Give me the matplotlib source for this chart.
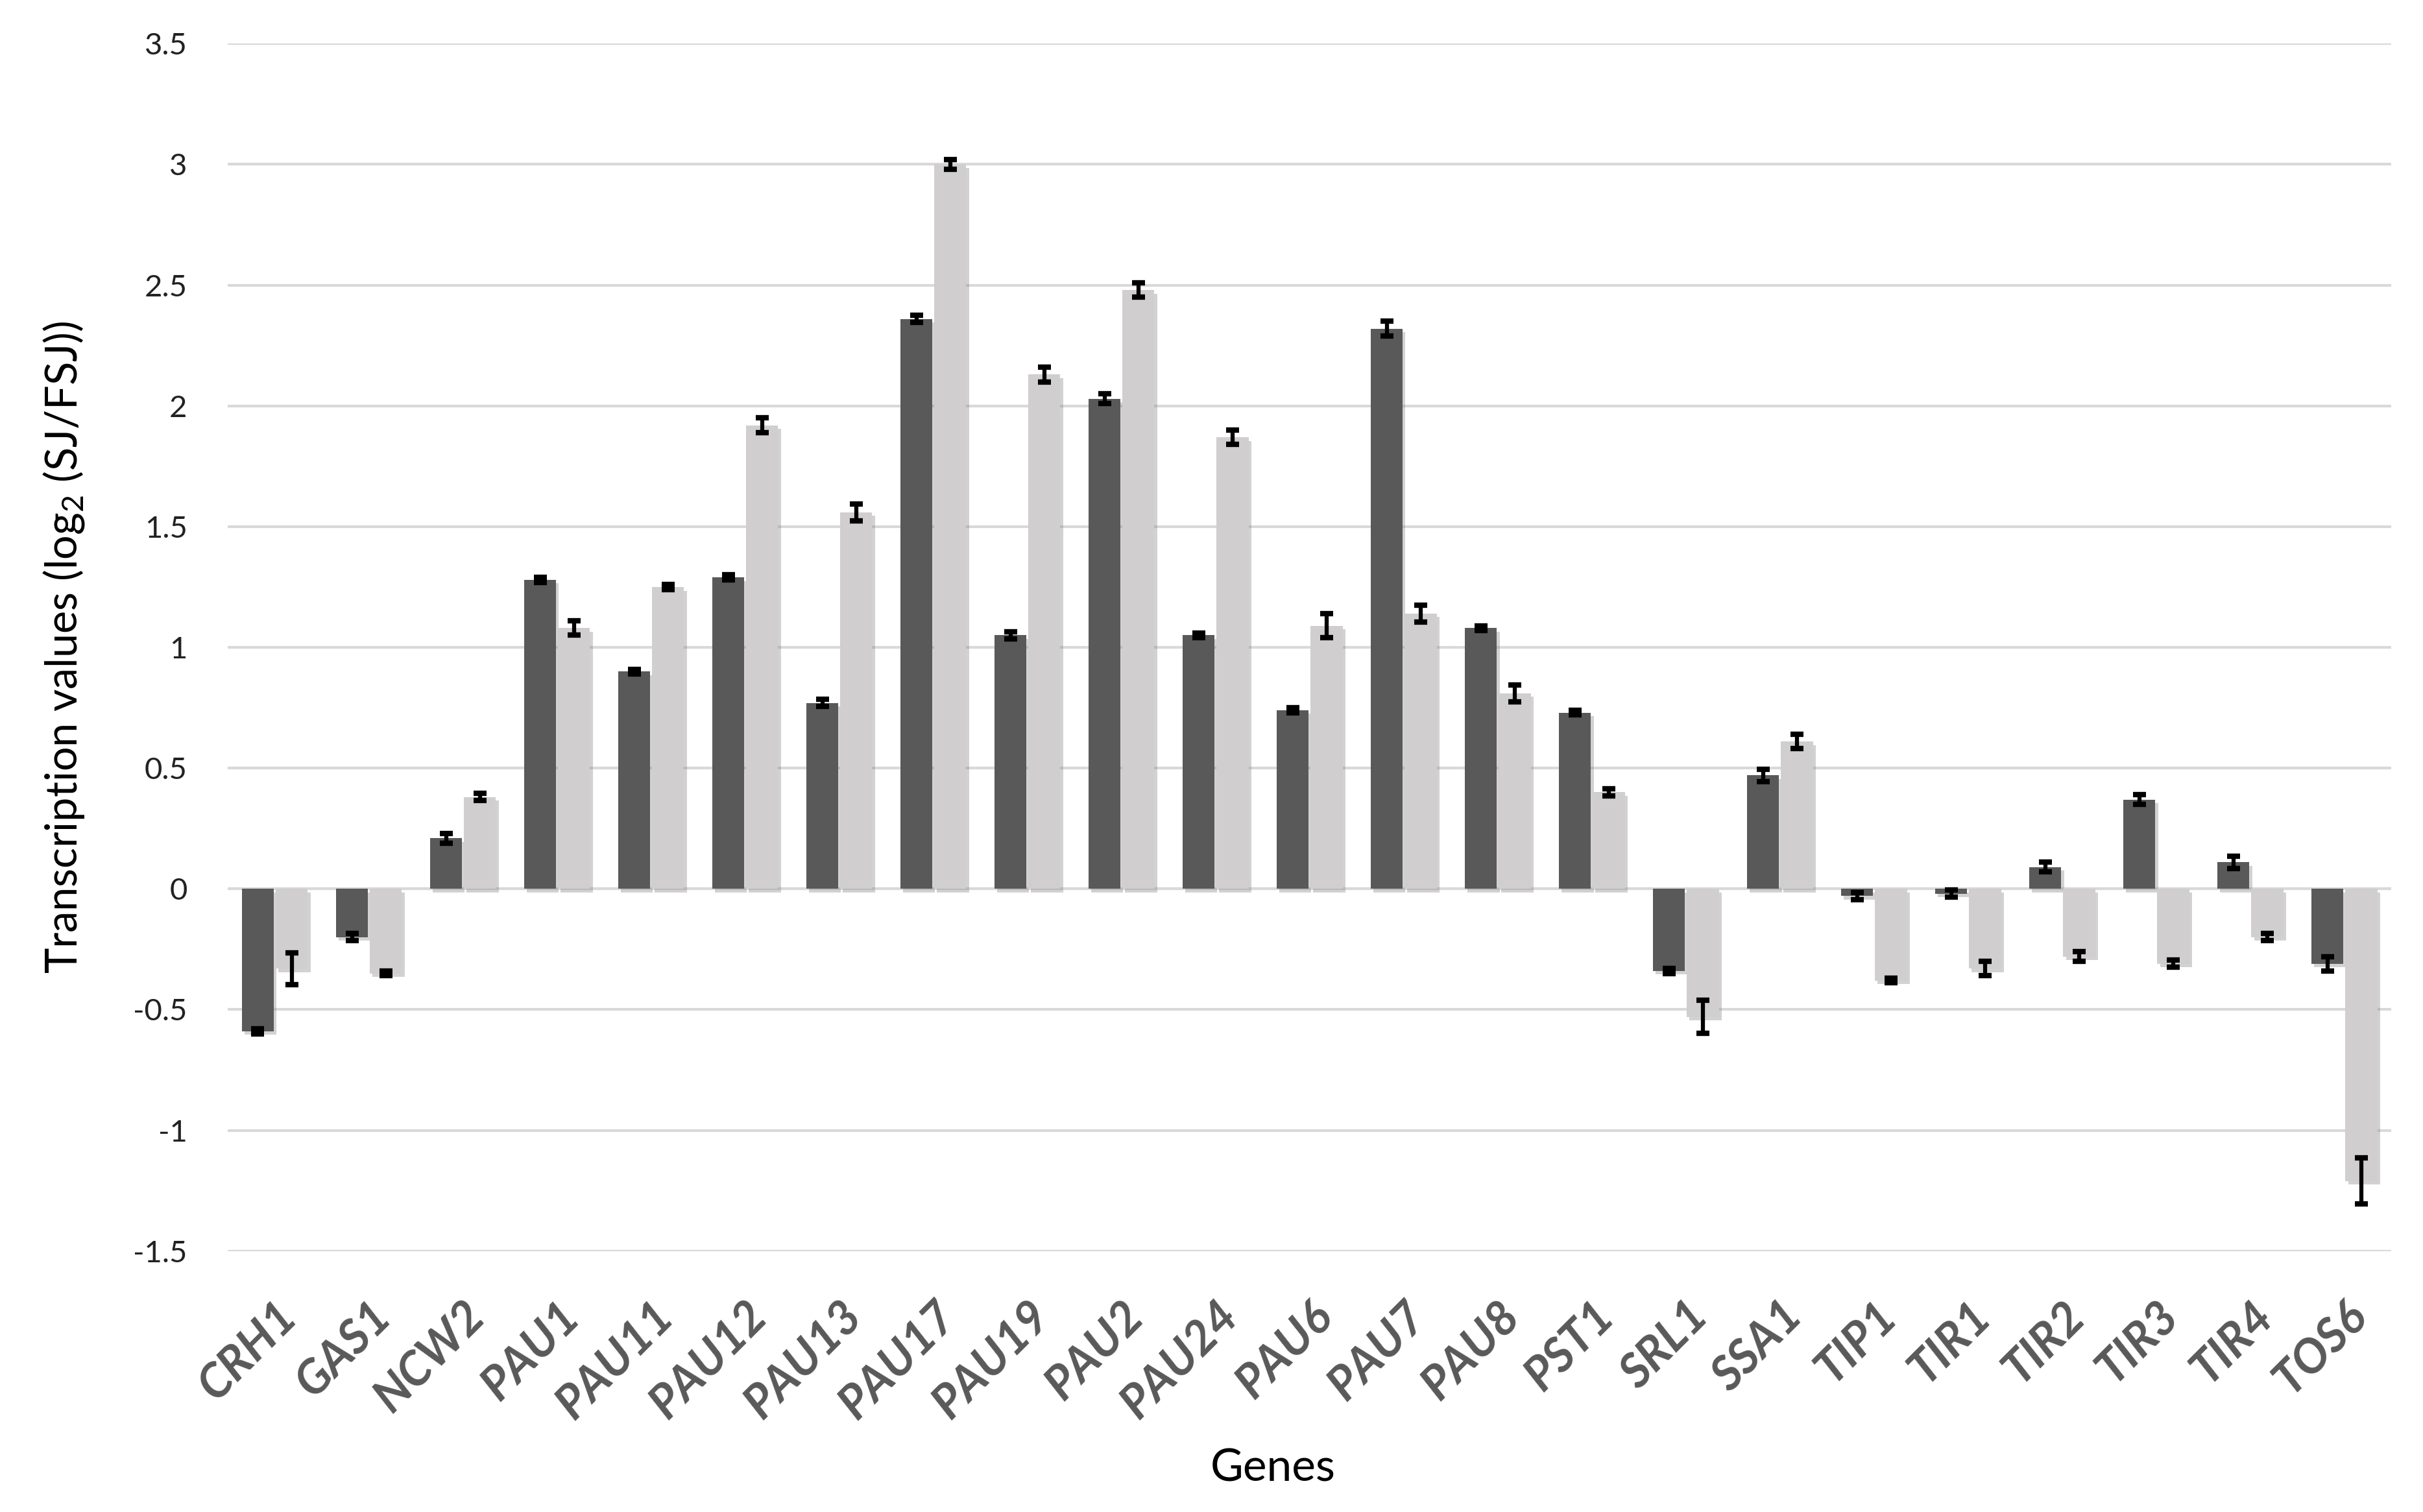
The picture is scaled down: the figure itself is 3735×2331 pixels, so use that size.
import matplotlib
matplotlib.use("Agg")
import matplotlib.pyplot as plt
import matplotlib.patheffects as pe
import numpy as np

# genes and the two series
genes = ["CRH1", "GAS1", "NCW2", "PAU1", "PAU11", "PAU12", "PAU13", "PAU17",
         "PAU19", "PAU2", "PAU24", "PAU6", "PAU7", "PAU8", "PST1", "SRL1",
         "SSA1", "TIP1", "TIR1", "TIR2", "TIR3", "TIR4", "TOS6"]

dark_vals = [-0.59, -0.20, 0.21, 1.28, 0.90, 1.29, 0.77, 2.36,
             1.05, 2.03, 1.05, 0.74, 2.32, 1.08, 0.73, -0.34,
             0.47, -0.03, -0.02, 0.09, 0.37, 0.11, -0.31]
dark_err = [0.01, 0.015, 0.02, 0.01, 0.01, 0.01, 0.015, 0.015,
            0.015, 0.02, 0.01, 0.01, 0.03, 0.01, 0.01, 0.01,
            0.025, 0.015, 0.015, 0.02, 0.02, 0.025, 0.03]

light_vals = [-0.33, -0.35, 0.38, 1.08, 1.25, 1.92, 1.56, 3.00,
              2.13, 2.48, 1.87, 1.09, 1.14, 0.81, 0.40, -0.53,
              0.61, -0.38, -0.33, -0.28, -0.31, -0.20, -1.21]
light_err = [0.066, 0.01, 0.015, 0.03, 0.01, 0.03, 0.035, 0.02,
             0.03, 0.03, 0.03, 0.05, 0.035, 0.035, 0.015, 0.068,
             0.03, 0.01, 0.03, 0.02, 0.015, 0.015, 0.095]

yticks = [-1.5, -1, -0.5, 0, 0.5, 1, 1.5, 2, 2.5, 3, 3.5]
ytick_labels = ["-1.5", "-1", "-0.5", "0", "0.5", "1", "1.5", "2", "2.5", "3", "3.5"]

plt.rcParams['font.family'] = ['Lato', 'DejaVu Sans']
plt.rcParams['mathtext.default'] = 'regular'

fig = plt.figure(figsize=(37.35, 23.31), dpi=100)
ax = fig.add_axes([0.094, 0.1726, 0.893, 0.7985])

x = np.arange(len(genes))
w = 0.34
shadow = [pe.SimplePatchShadow(offset=(3, -4), shadow_rgbFace='#808080', alpha=0.35), pe.Normal()]

b1 = ax.bar(x - 0.18, dark_vals, w, color='#595959', zorder=3)
b2 = ax.bar(x + 0.18, light_vals, w, color='#D0CECE', zorder=3)
for b in list(b1) + list(b2):
    b.set_path_effects(shadow)

ekw = dict(fmt='none', ecolor='black', elinewidth=4.5, capsize=7, capthick=6, zorder=4)
ax.errorbar(x - 0.18, dark_vals, yerr=dark_err, **ekw)
ax.errorbar(x + 0.18, light_vals, yerr=light_err, **ekw)

ax.set_xlim(-0.5, len(genes) - 0.5)
ax.set_ylim(-1.5, 3.5)
ax.set_yticks(yticks)
ax.set_yticklabels(ytick_labels)
ax.yaxis.grid(True, color='#D9D9D9', linewidth=3, zorder=0)
ax.axhline(0, color='#D9D9D9', linewidth=3, zorder=1)
for s in ax.spines.values():
    s.set_visible(False)

ax.tick_params(axis='y', length=0, pad=45, labelsize=34, labelcolor='#222222')
ax.tick_params(axis='x', length=0, pad=48)
ax.set_xticks(x)
ax.set_xticklabels(genes, rotation=45, ha='right', rotation_mode='anchor',
                   fontsize=52, fontweight='bold', fontstyle='italic', color='#595959')

ax.set_ylabel('Transcription values (log$_2$ (SJ/FSJ))', fontsize=48, labelpad=52)
ax.set_xlabel('Genes', fontsize=50)
ax.xaxis.set_label_coords(0.483, -0.163)

fig.savefig('out.png', dpi=100)
